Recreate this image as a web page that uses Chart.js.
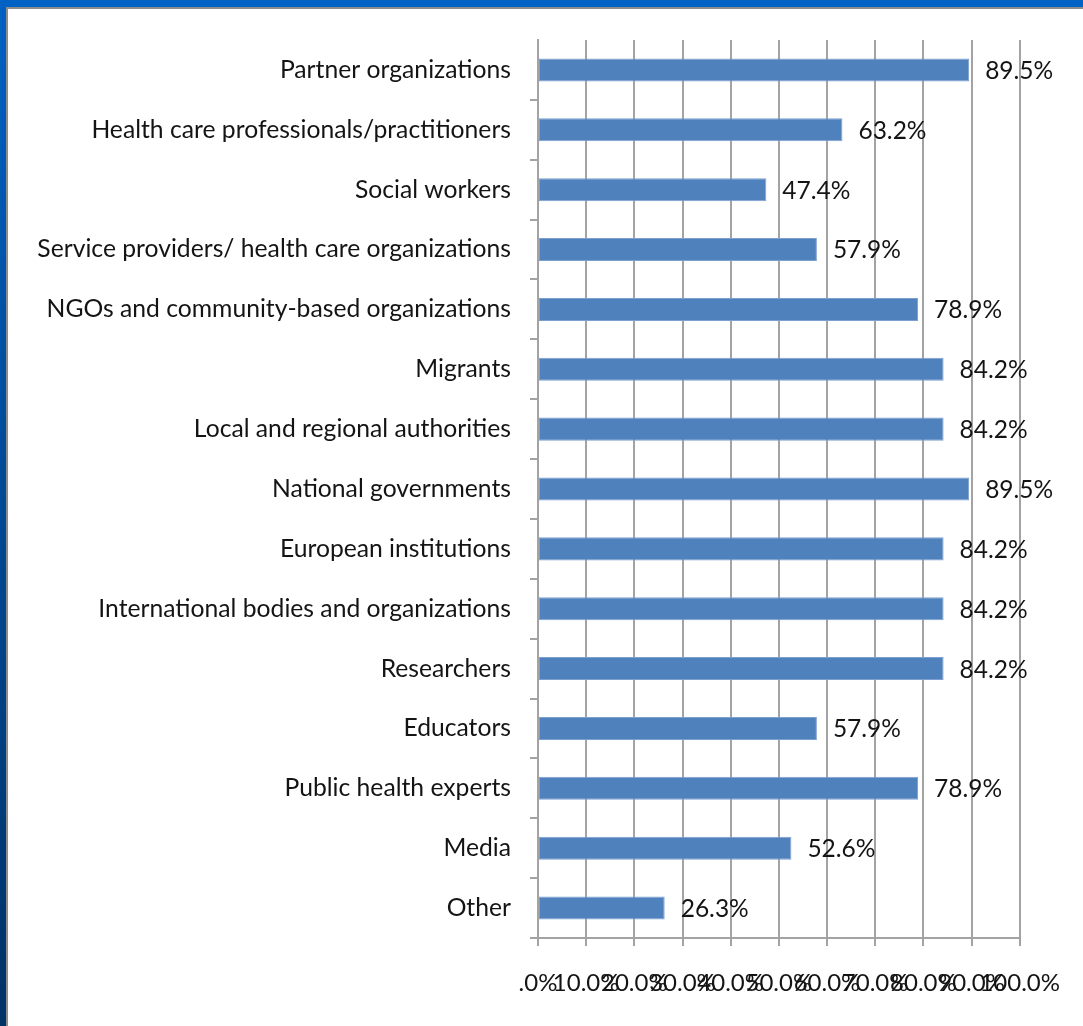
<!DOCTYPE html>
<html>
<head>
<meta charset="utf-8">
<script src="https://cdn.jsdelivr.net/npm/chart.js@4/dist/chart.umd.min.js"></script>
<style>
    html, body { margin: 0; padding: 0; background: #fff; }
    body { width: 1083px; height: 1026px; position: relative; overflow: hidden; }
    /* slide frame: blue band on top and left, thin grey edge inside */
    .frame-top { position: absolute; left: 0; top: 0; width: 1083px; height: 7px; background: #0062c4; }
    .frame-top-edge { position: absolute; left: 6px; top: 7px; width: 1077px; height: 2px; background: #8c8c8c; }
    .frame-left { position: absolute; left: 0; top: 7px; width: 6px; height: 1019px;
        background: linear-gradient(to bottom, #0060c2, #003266); }
    .frame-left-edge { position: absolute; left: 6px; top: 7px; width: 2px; height: 1019px; background: #8c8c8c; }
    .chart-box { position: absolute; left: 0; top: 0; width: 1083px; height: 1026px; }
</style>
</head>
<body>
<div class="frame-top"></div>
<div class="frame-left"></div>
<div class="frame-top-edge"></div>
<div class="frame-left-edge"></div>
<div class="chart-box"><canvas id="myBar"></canvas></div>
<script>
    // audiences, top to bottom
    const categories = [
        'Partner organizations',
        'Health care professionals/practitioners',
        'Social workers',
        'Service providers/ health care organizations',
        'NGOs and community-based organizations',
        'Migrants',
        'Local and regional authorities',
        'National governments',
        'European institutions',
        'International bodies and organizations',
        'Researchers',
        'Educators',
        'Public health experts',
        'Media',
        'Other'
    ];
    // share of respondents, percent
    const shares = [89.5, 63.2, 47.4, 57.9, 78.9, 84.2, 84.2, 89.5, 84.2, 84.2, 84.2, 57.9, 78.9, 52.6, 26.3];
    // x axis tick labels, 0 to 100 in steps of 10
    const tickLabels = ['.0%', '10.0%', '20.0%', '30.0%', '40.0%', '50.0%', '60.0%', '70.0%', '80.0%', '90.0%', '100.0%'];

    const gridGrey = '#a3a3a3';
    const textColor = '#141414';

    // value label just right of each bar
    const barValues = {
        id: 'barValues',
        afterDatasetsDraw(chart) {
            const { ctx } = chart;
            const meta = chart.getDatasetMeta(0);
            ctx.save();
            ctx.font = '24.5px Lato';
            ctx.fillStyle = textColor;
            ctx.textAlign = 'left';
            ctx.textBaseline = 'middle';
            meta.data.forEach(function (bar, i) {
                ctx.fillText(shares[i].toFixed(1) + '%', bar.x + 16, bar.y + 1);
            });
            ctx.restore();
        }
    };

    const ctx = document.getElementById('myBar').getContext('2d');
    const myChart = new Chart(ctx, {
        type: 'bar',
        data: {
            labels: categories,
            datasets: [{
                data: shares,
                backgroundColor: '#4f81bd',
                borderColor: '#7d9fd0',
                borderWidth: 1,
                borderSkipped: false,
                barPercentage: 0.385,
                categoryPercentage: 1
            }]
        },
        options: {
            indexAxis: 'y',
            responsive: true,
            maintainAspectRatio: false,
            animation: false,
            layout: {
                padding: { top: 40, right: 60, bottom: 0, left: 0 }
            },
            plugins: {
                legend: { display: false },
                tooltip: { enabled: false }
            },
            scales: {
                x: {
                    min: 0,
                    max: 100,
                    afterFit: function (scale) { scale.height = 88; },
                    afterBuildTicks: function (scale) {
                        scale.ticks = tickLabels.map(function (t, i) { return { value: i * 10 }; });
                    },
                    ticks: {
                        autoSkip: false,
                        maxRotation: 0,
                        padding: 23,
                        color: textColor,
                        font: { family: 'Lato', size: 24 },
                        callback: function (value) { return tickLabels[Math.round(value / 10)]; }
                    },
                    grid: {
                        color: gridGrey,
                        lineWidth: 2,
                        tickLength: 8
                    },
                    border: { color: gridGrey, width: 2 }
                },
                y: {
                    afterFit: function (scale) { scale.width = 538; },
                    ticks: {
                        padding: 19,
                        color: textColor,
                        font: { family: 'Lato', size: 24.7 }
                    },
                    grid: {
                        offset: true,
                        drawOnChartArea: false,
                        tickLength: 8,
                        lineWidth: 2,
                        color: function (c) { return c.index === 0 ? 'rgba(0,0,0,0)' : gridGrey; }
                    },
                    border: { color: gridGrey, width: 2 }
                }
            }
        },
        plugins: [barValues]
    });
</script>
</body>
</html>
